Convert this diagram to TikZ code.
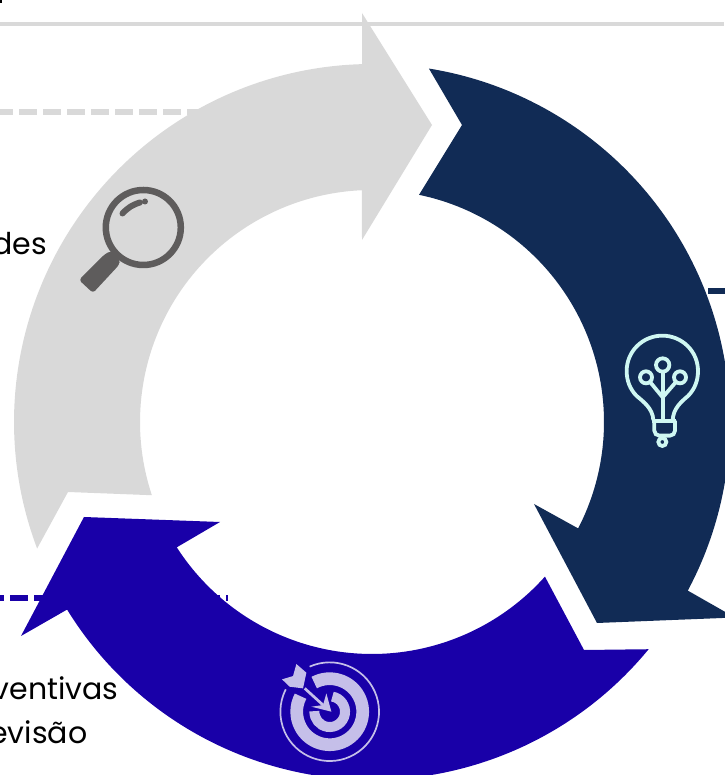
\documentclass[tikz,border=0pt]{standalone}
\usepackage{fontspec}
\setmainfont{Poppins}
\usetikzlibrary{calc}
\definecolor{arrowgray}{HTML}{D9D9D9}
\definecolor{arrownavy}{HTML}{112B55}
\definecolor{arrowblue}{HTML}{1900A8}
\definecolor{icongray}{HTML}{5E5C5C}
\definecolor{iconmint}{HTML}{CFF7F2}
\definecolor{iconlilac}{HTML}{C5BFE9}
\tikzset{
	leader/.style={line width=6pt,dash pattern=on 18pt off 6pt},
	label text/.style={anchor=base east,inner sep=0pt,font=\fontsize{30}{36}\selectfont,text=black},
	bulb line/.style={draw=iconmint,line width=3.8pt}
}
\begin{document}
\begin{tikzpicture}[x=1pt,y=1pt]
	\useasboundingbox (0,0) rectangle (724,775);
	\coordinate (ctr) at (372,353);

	%lines
	\draw[arrowgray,line width=3.5pt] (0,751)--(724,751);
	\fill[black] (0,772) rectangle (2,775);
	\draw[leader,arrowgray] (-5,663)--(200,663);
	\draw[leader,arrownavy] (660,484)--(740,484);
	\draw[leader,arrowblue] (-14,177)--(228,177);

	%arrows
	\fill[arrowgray] ([shift={(200.7:358)}]ctr) arc (200.7:91.6:358) -- (362,762) -- (432,650) -- (362,535)
		-- ([shift={(92.5:232)}]ctr) arc (92.5:198.4:232) -- (68,283) -- cycle;
	\fill[arrownavy] ([shift={(80.85:358)}]ctr) arc (80.85:-28.1:358) -- (735,157.5) -- (597,152) -- (534,271)
		-- ([shift={(-27.3:232)}]ctr) arc (-27.3:78.3:232) -- (462,650) -- cycle;
	\fill[arrowblue] ([shift={(-39.4:358)}]ctr) arc (-39.4:-148.4:358) -- (21,139) -- (84,258) -- (220,253)
		-- ([shift={(-147.3:232)}]ctr) arc (-147.3:-41.8:232) -- (584,125) -- cycle;

	%magnifier
	\draw[icongray,line width=6.5pt] (143.3,547.5) circle (37.5);
	\draw[icongray,line width=6pt,line cap=round] (122.5,561.5) to[bend left=15] (140,572.5);
	\fill[icongray] (145,573.5) circle (3);
	\fill[icongray,rounded corners=3pt] (105,521) -- (111,524) -- (120,515) -- (119,510) -- (93,482) -- (79,495) -- cycle;

	%bulb
	\begin{scope}[shift={(610,455)},x=0.3333pt,y=-0.3333pt]
		\draw[bulb line] (130,300) .. controls (128,265) and (100,245) .. (80,228)
			.. controls (60,208) and (50,182) .. (50,153)
			.. controls (50,94) and (98,47) .. (157,47)
			.. controls (216,47) and (264,94) .. (264,153)
			.. controls (264,182) and (254,208) .. (234,228)
			.. controls (214,245) and (190,265) .. (188,300);
		\draw[bulb line] (125,302)--(198,302);
		\draw[bulb line,rounded corners=5pt] (133,302)--(133,347)--(195,347)--(195,302);
		\draw[bulb line] (157,366) circle (12);
		\draw[bulb line] (158,155)--(158,300);
		\draw[bulb line] (158,232)--(121,187);
		\draw[bulb line] (158,232)--(197,187);
		\draw[bulb line] (158,135) circle (20);
		\draw[bulb line] (108,172) circle (18);
		\draw[bulb line] (210,172) circle (18);
	\end{scope}

	%target
	\begin{scope}[shift={(329.7,63.3)},x=0.3333pt,y=0.3333pt]
		\draw[iconlilac,line width=1.7pt] (114:148) arc (114:-207:148);
		\draw[iconlilac,line width=12.7pt] (118:99) arc (118:-208:99);
		\draw[iconlilac,line width=10pt] (80:46) arc (80:-182:46);
		\draw[iconlilac,line width=2.7pt] (-75,70)--(-20,20);
		\fill[iconlilac] (-10,55) -- (5,0) -- (-55,15) -- (-20,20) -- cycle;
		\fill[iconlilac] (-143,97) -- (-110,107) -- (-100,143) -- (-70,117) -- (-80,70) -- (-120,75) -- cycle;
	\end{scope}

	%labels
	\node[label text] (lblDes) at (47,520.5) {des};
	\node[label text] (lblVentivas) at (118.5,75.5) {ventivas};
	\node[label text] (lblVisao) at (87.5,31) {evisão};
\end{tikzpicture}
\end{document}
